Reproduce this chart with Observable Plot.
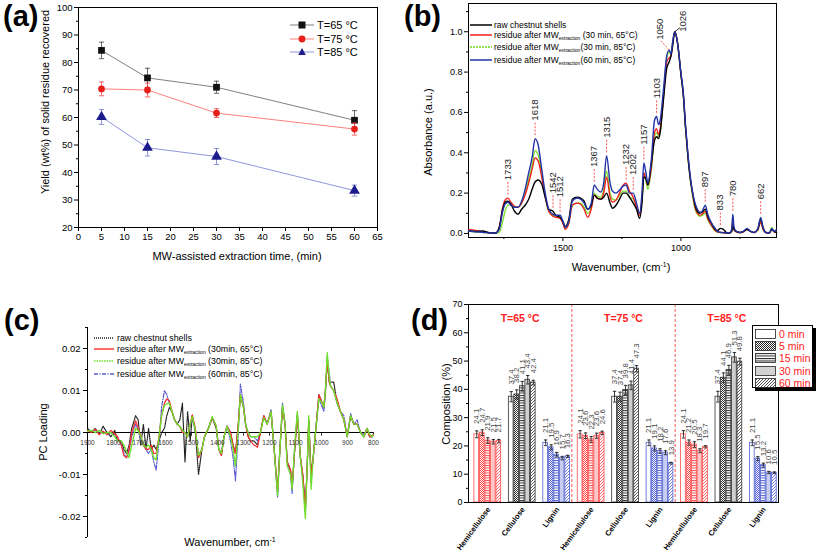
<!DOCTYPE html>
<html><head><meta charset="utf-8">
<script src="https://cdn.jsdelivr.net/npm/d3@7"></script>
<script src="https://cdn.jsdelivr.net/npm/@observablehq/plot@0.6"></script>
<style>
body{margin:0;background:#fff;}
#root{position:relative;width:817px;height:554px;overflow:hidden;font-family:"Liberation Sans",Arial,sans-serif;color:#000;}
.abs{position:absolute;white-space:nowrap;}
.plab{position:absolute;font-weight:bold;font-size:29px;line-height:29px;}
.lg{position:absolute;white-space:nowrap;font-size:8.5px;line-height:10px;}
.lg sub{font-size:5px;vertical-align:-2px;}
</style></head><body><div id="root"></div>
<script>
// ---------- DATA ----------
// (a) yield vs time
const timesA = [5, 15, 30, 60];
const yield65 = [84.4, 74.4, 71.0, 59.0];
const err65 = [3.0, 3.5, 2.2, 3.5];
const yield75 = [70.4, 70.0, 61.6, 55.8];
const err75 = [2.5, 2.5, 1.6, 2.2];
const yield85 = [60.2, 49.0, 45.8, 33.4];
const err85 = [2.7, 3.0, 2.9, 2.0];
const seriesNamesA = ["T=65 °C", "T=75 °C", "T=85 °C"];

// (b) FTIR spectra
const WNb = [1900,1870,1840,1810,1785,1770,1755,1745,1733,1720,
1705,1690,1675,1660,1645,1630,1618,1605,1590,1575,
1560,1542,1530,1512,1500,1490,1475,1460,1440,1425,
1410,1395,1380,1367,1355,1340,1327,1315,1300,1290,
1275,1260,1245,1232,1218,1202,1188,1175,1165,1157,
1148,1140,1125,1112,1103,1095,1088,1075,1060,1050,
1042,1035,1026,1015,1000,990,980,970,960,950,
940,930,920,910,897,885,870,855,845,833,
820,805,795,785,780,775,765,750,735,720,
705,690,675,662,652,640,625,615,605,595];
const rawB = [0.012,0.010,0.012,0.003,0.002,0.03,0.12,0.155,0.16,0.145,
0.11,0.095,0.12,0.14,0.17,0.22,0.255,0.265,0.245,0.18,
0.12,0.11,0.09,0.08,0.06,0.035,0.07,0.17,0.18,0.175,
0.16,0.12,0.14,0.19,0.175,0.17,0.18,0.2,0.15,0.125,
0.14,0.17,0.2,0.2,0.18,0.15,0.12,0.075,0.15,0.28,
0.27,0.24,0.35,0.46,0.48,0.47,0.5,0.65,0.82,0.85,
0.88,0.93,1.0,0.95,0.79,0.69,0.52,0.38,0.27,0.2,
0.14,0.11,0.1,0.105,0.12,0.08,0.05,0.02,0.015,0.025,
0.02,0.003,0.002,0.01,0.04,0.02,0.01,0.005,0.01,0.02,
0.01,0.005,0.02,0.07,0.03,0.005,0.003,0.02,0.01,0.005];
const res65B = [0.02,0.015,0.008,0.003,0.002,0.03,0.13,0.165,0.175,0.155,
0.135,0.13,0.15,0.19,0.25,0.32,0.375,0.36,0.28,0.18,
0.11,0.085,0.08,0.075,0.05,0.02,0.05,0.14,0.15,0.145,
0.12,0.08,0.12,0.19,0.175,0.17,0.2,0.28,0.18,0.155,
0.165,0.2,0.24,0.25,0.21,0.18,0.13,0.09,0.17,0.3,
0.27,0.24,0.33,0.5,0.52,0.49,0.52,0.66,0.85,0.87,
0.88,0.94,1.0,0.95,0.79,0.69,0.52,0.38,0.27,0.19,
0.13,0.1,0.09,0.095,0.11,0.07,0.04,0.015,0.008,0.005,
0.003,0.002,0.002,0.01,0.05,0.02,0.008,0.004,0.008,0.02,
0.01,0.004,0.015,0.055,0.02,0.004,0.002,0.02,0.008,0.005];
const res85B = [0.01,0.008,0.006,0.002,0.0,0.005,0.06,0.11,0.14,0.14,
0.13,0.13,0.15,0.2,0.27,0.34,0.41,0.39,0.3,0.19,
0.11,0.09,0.085,0.08,0.055,0.025,0.05,0.14,0.15,0.15,
0.13,0.1,0.13,0.2,0.185,0.18,0.22,0.31,0.2,0.17,
0.165,0.19,0.21,0.21,0.18,0.17,0.13,0.1,0.16,0.3,
0.26,0.22,0.32,0.48,0.5,0.48,0.5,0.66,0.87,0.9,
0.89,0.95,1.0,0.95,0.79,0.68,0.51,0.37,0.26,0.18,
0.12,0.095,0.085,0.09,0.1,0.065,0.035,0.012,0.006,0.004,
0.003,0.002,0.002,0.01,0.07,0.02,0.008,0.004,0.008,0.02,
0.01,0.004,0.015,0.06,0.02,0.004,0.005,0.03,0.008,0.005];
const res60B = [0.012,0.008,0.006,0.002,0.002,0.02,0.11,0.145,0.155,0.14,
0.13,0.13,0.16,0.22,0.3,0.38,0.47,0.44,0.32,0.2,
0.12,0.095,0.09,0.09,0.06,0.03,0.06,0.16,0.175,0.17,
0.15,0.12,0.15,0.24,0.22,0.205,0.25,0.385,0.25,0.21,
0.2,0.215,0.235,0.24,0.2,0.2,0.15,0.1,0.2,0.35,
0.3,0.25,0.37,0.56,0.58,0.54,0.56,0.7,0.88,0.91,
0.89,0.95,1.0,0.95,0.8,0.7,0.53,0.39,0.28,0.2,
0.15,0.12,0.105,0.11,0.14,0.09,0.05,0.025,0.01,0.006,
0.004,0.002,0.002,0.02,0.095,0.03,0.01,0.005,0.01,0.025,
0.01,0.005,0.02,0.08,0.03,0.005,0.003,0.025,0.01,0.02];
const peaksB = [1733,1618,1542,1512,1367,1315,1232,1202,1157,1103,897,833,780,662];
const peak1050 = 1050, peak1026 = 1026;
const legendB = ["raw chestnut shells", ["residue after MW","extraction"," (30 min, 65°C)"], ["residue after MW","extraction","(30 min, 85°C)"], ["residue after MW","extraction","(60 min, 85°C)"]];

// (c) PC loadings
const WNc = [1900,1885,1870,1855,1840,1825,1810,1795,1785,1770,
1760,1750,1740,1730,1715,1705,1695,1685,1675,1665,
1655,1645,1636,1625,1615,1604,1595,1585,1575,1565,
1555,1545,1535,1525,1515,1505,1497,1485,1473,1460,
1450,1435,1420,1405,1395,1385,1375,1363,1350,1340,
1331,1320,1312,1300,1292,1282,1273,1260,1246,1235,
1222,1209,1194,1182,1169,1160,1150,1140,1132,1125,
1119,1113,1103,1093,1081,1072,1062,1055,1049,1040,
1032,1023,1010,997,991,985,978,970,965,953,
940,927,914,901,888,876,863,850,837,825,
815,805,800];
const rawC = [0.001,0.0,0.001,-0.0005,0.0015,0.0,-0.001,0.0005,-0.002,-0.002,
-0.004,-0.005,-0.003,0.001,0.004,0.003,-0.003,0.002,-0.004,0.001,
-0.004,-0.003,-0.004,-0.002,0.0,0.001,0.004,0.006,0.005,0.003,
0.002,0.003,0.007,-0.007,0.005,-0.002,0.004,0.0,-0.01,-0.004,
-0.001,0.001,0.0035,0.001,-0.004,-0.005,-0.001,0.0015,0.0,-0.003,
-0.005,0.002,0.009,0.006,0.002,-0.001,-0.002,-0.002,-0.003,0.0,
0.004,0.002,0.005,-0.004,-0.014,-0.004,0.006,0.002,-0.007,-0.008,
-0.009,-0.013,-0.004,0.004,-0.006,-0.01,-0.018,-0.008,0.003,-0.01,
-0.006,0.0,0.009,0.007,0.006,0.01,0.017,0.012,0.012,0.012,
0.007,0.005,0.003,-0.001,0.004,0.002,0.002,0.0,-0.001,0.001,
-0.001,-0.001,-0.0005];
const res65C = [0.0005,0.0,0.0008,-0.0005,0.0003,-0.0005,0.0005,-0.0003,-0.001,-0.003,
-0.0055,-0.006,-0.004,0.0,0.0028,0.001,-0.001,-0.003,-0.004,-0.004,
-0.003,-0.005,-0.005,-0.001,0.004,0.007,0.008,0.0075,0.005,0.003,
0.002,0.0015,0.0,0.0,-0.001,0.002,0.0042,0.001,-0.006,-0.004,
-0.001,0.001,0.0035,0.0015,-0.004,-0.0055,-0.001,0.0015,0.0,-0.003,
-0.005,0.002,0.009,0.006,0.002,-0.001,-0.002,-0.003,-0.0035,0.0,
0.004,0.002,0.005,-0.004,-0.014,-0.004,0.006,0.002,-0.007,-0.008,
-0.009,-0.013,-0.004,0.004,-0.006,-0.01,-0.018,-0.008,0.003,-0.01,
-0.006,0.0,0.009,0.007,0.006,0.01,0.017,0.012,0.011,0.01,
0.008,0.005,0.003,-0.001,0.004,0.002,0.002,0.0,-0.001,0.001,
-0.001,-0.001,-0.0005];
const res85C = [0.0003,0.0005,0.0,0.0005,-0.0003,0.0,0.0,-0.001,-0.002,-0.002,
-0.003,-0.0045,-0.006,-0.003,0.001,0.0005,-0.001,-0.003,-0.0035,-0.003,
-0.004,-0.006,-0.0065,-0.001,0.004,0.0065,0.0068,0.007,0.005,0.003,
0.002,0.0015,0.0005,0.0,-0.001,0.002,0.0038,0.0005,-0.0055,-0.004,
-0.001,0.001,0.0038,0.0015,-0.004,-0.005,-0.001,0.0015,-0.001,-0.004,
-0.008,0.001,0.009,0.006,0.002,0.0,-0.001,-0.001,-0.001,0.0,
0.0035,0.002,0.005,-0.004,-0.015,-0.004,0.0065,0.002,-0.008,-0.009,
-0.01,-0.0135,-0.003,0.005,-0.006,-0.012,-0.0205,-0.008,0.004,-0.0135,
-0.006,0.0,0.008,0.007,0.006,0.01,0.019,0.013,0.011,0.01,
0.007,0.005,0.003,-0.001,0.004,0.002,0.002,0.0,-0.001,0.001,
-0.0005,-0.001,-0.0005];
const res60C = [0.0005,0.0002,0.0005,0.0,0.0002,-0.0005,0.0,-0.0005,-0.001,-0.003,
-0.005,-0.006,-0.0045,-0.001,0.002,0.0005,-0.002,-0.003,-0.004,-0.005,
-0.004,-0.007,-0.009,-0.002,0.006,0.01,0.009,0.007,0.005,0.003,
0.002,0.0015,0.0005,0.0,-0.001,0.0015,0.0035,0.0005,-0.0055,-0.004,
-0.001,0.001,0.0035,0.0015,-0.004,-0.0055,-0.001,0.0015,-0.002,-0.006,
-0.0115,0.0,0.0115,0.007,0.002,0.0,-0.001,-0.001,-0.002,0.0,
0.004,0.002,0.0055,-0.004,-0.0155,-0.004,0.007,0.002,-0.007,-0.009,
-0.01,-0.0145,-0.004,0.0045,-0.006,-0.011,-0.019,-0.008,0.003,-0.012,
-0.006,0.0,0.008,0.006,0.005,0.009,0.018,0.014,0.011,0.01,
0.007,0.005,0.004,-0.001,0.0045,0.002,0.003,0.0,-0.0005,0.001,
-0.0005,-0.001,-0.0005];
const ticksC = [1900,1800,1700,1600,1500,1400,1300,1200,1100,1000,900,800];
const legendC = ["raw chestnut shells", ["residue after MW","extraction"," (30min, 65°C)"], ["residue after MW","extraction"," (30min, 85°C)"], ["residue after MW","extraction"," (60min, 85°C)"]];

// (d) composition
const timesD = ["0 min","5 min","15 min","30 min","60 min"];
const componentsD = ["Hemicellulose","Cellulose","Lignin"];
const tempsD = ["T=65 °C","T=75 °C","T=85 °C"];
const hemi65 = [24.1,24.7,21.9,21.5,21.7], cell65 = [37.4,38.2,41.1,43.4,42.4], lig65 = [21.1,19.5,16.9,15.7,16.3];
const hemi75 = [24.1,23.6,22.3,23.6,24.6], cell75 = [37.4,37.4,39.8,41.4,47.3], lig75 = [21.1,19.1,18.2,17.6,13.9];
const hemi85 = [24.1,21.2,20.5,18.3,19.7], cell85 = [37.4,44.1,46.9,51.3,49.8], lig85 = [21.1,15.5,13.2,10.6,10.5];
const hemi65e = [1.2,1.0,1.0,0.8,0.6], cell65e = [1.8,1.6,1.7,1.5,0.8], lig65e = [1.0,0.9,0.8,0.6,0.4];
const hemi75e = [1.3,1.0,1.0,0.9,0.6], cell75e = [1.9,1.6,1.6,1.5,1.1], lig75e = [1.0,0.9,0.8,0.7,0.3];
const hemi85e = [1.3,0.9,1.0,0.7,0.4], cell85e = [1.9,1.7,1.6,1.7,1.2], lig85e = [1.0,0.7,0.7,0.4,0.3];

// ---------- HELPERS ----------
const FF = '"Liberation Sans", Arial, sans-serif';
const root = document.getElementById("root");
function put(el, left, top) { el.style.position = "absolute"; el.style.left = left + "px"; el.style.top = top + "px"; root.appendChild(el); return el; }
function label(text, cx, cy, size, rot) {
  const d = document.createElement("div");
  d.className = "abs"; d.innerHTML = text; d.style.fontSize = size + "px"; d.style.lineHeight = "1";
  d.style.transform = `translate(-50%,-50%)` + (rot ? ` rotate(${rot}deg)` : "");
  return put(d, cx, cy);
}
function plab(t, l, tp) { const d = document.createElement("div"); d.className = "plab"; d.textContent = t; return put(d, l, tp); }
const capSym = {draw(ctx, size) { const w = Math.sqrt(size / Math.PI); ctx.moveTo(-w, 0); ctx.lineTo(w, 0); }};
const baseStyle = {fontFamily: FF, fontSize: "9.5px", background: "none", overflow: "visible", color: "#000"};
const blank = () => "";

// pattern defs
const PCOL = {Hemicellulose: "#ff4a4a", Cellulose: "#333333", Lignin: "#5060d0", key: "#222222"};
const LIGHT = {Hemicellulose: "#ffc8c8", Cellulose: "#cfcfcf", Lignin: "#c8cef2", key: "#d2d2d2"};
let defs = "";
for (const [k, c] of Object.entries(PCOL)) {
  defs += `<pattern id="p5-${k}" width="2" height="2" patternUnits="userSpaceOnUse"><rect width="2" height="2" fill="#fff"/><rect width="1" height="1" fill="${c}"/><rect x="1" y="1" width="1" height="1" fill="${c}"/></pattern>`;
  defs += `<pattern id="p15-${k}" width="3" height="2.5" patternUnits="userSpaceOnUse"><rect width="3" height="2.5" fill="#fff"/><rect width="3" height="1" fill="${c}"/></pattern>`;
  defs += `<pattern id="p60-${k}" width="3" height="3" patternUnits="userSpaceOnUse"><rect width="3" height="3" fill="#fff"/><path d="M-1,1 L1,-1 M0,3 L3,0 M2,4 L4,2" stroke="${c}" stroke-width="0.8"/></pattern>`;
}
document.body.insertAdjacentHTML("afterbegin", `<svg width="0" height="0" style="position:absolute"><defs>${defs}</defs></svg>`);
function fillFor(b, k) { return b === 0 ? "#ffffff" : b === 1 ? `url(#p5-${k})` : b === 2 ? `url(#p15-${k})` : b === 3 ? LIGHT[k] : `url(#p60-${k})`; }

// ---------- PANEL (a) ----------
{
  const styles = [
    {y: yield65, e: err65, mk: "#111", ln: "#808080", eb: "#444", sym: "square", r: 3.8},
    {y: yield75, e: err75, mk: "#e8201c", ln: "#ff8080", eb: "#f04040", sym: "circle", r: 3.4},
    {y: yield85, e: err85, mk: "#1c1c8f", ln: "#9096dc", eb: "#7076c8", sym: "triangle", r: 4}
  ];
  const marks = [
    Plot.frame({stroke: "#000"}),
    Plot.axisX({ticks: d3.range(0, 66, 5), tickSize: 4, tickPadding: 2, tickFormat: d => String(d), label: null, fontSize: 9.5}),
    Plot.axisY({ticks: d3.range(20, 101, 10), tickSize: 4, tickPadding: 2, tickFormat: d => String(d), label: null, fontSize: 9.5}),
    Plot.axisY({ticks: d3.range(25, 100, 10), tickSize: 2, tickFormat: blank, label: null})
  ];
  styles.forEach((s, si) => {
    const rows = timesA.map((t, i) => ({t, v: s.y[i], e: s.e[i]}));
    marks.push(Plot.line(rows, {x: "t", y: "v", stroke: s.ln, strokeWidth: 1}));
    marks.push(Plot.ruleX(rows, {x: "t", y1: d => d.v - d.e, y2: d => d.v + d.e, stroke: s.eb, strokeWidth: 0.8}));
    marks.push(Plot.dot(rows, {x: "t", y: d => d.v + d.e, symbol: capSym, r: 2.6, stroke: s.eb, strokeWidth: 0.8}));
    marks.push(Plot.dot(rows, {x: "t", y: d => d.v - d.e, symbol: capSym, r: 2.6, stroke: s.eb, strokeWidth: 0.8}));
    marks.push(Plot.dot(rows, {x: "t", y: "v", symbol: s.sym, r: s.r, fill: s.mk, stroke: "none"}));
  });
  const p = Plot.plot({width: 400, height: 270, marginLeft: 78, marginRight: 23, marginTop: 7, marginBottom: 43,
    x: {domain: [0, 65]}, y: {domain: [20, 100]}, style: baseStyle, marks});
  put(p, 0, 0);
  const lg = styles.map((s, i) => {
    const shape = s.sym === "square" ? `<rect x="8.5" y="1.5" width="7" height="7" fill="${s.mk}"/>` :
      s.sym === "circle" ? `<circle cx="12" cy="5" r="3.4" fill="${s.mk}"/>` :
      `<path d="M12,1 L15.8,8 L8.2,8 Z" fill="${s.mk}"/>`;
    return `<div class="abs" style="left:290px;top:${[20,34,47][i]}px;height:10px;font-size:11px;line-height:10px">` +
      `<svg width="24" height="10" style="vertical-align:top"><line x1="0" y1="5" x2="24" y2="5" stroke="${s.ln}" stroke-width="1"/>${shape}</svg>` +
      `<span style="position:absolute;left:27px;top:0">${seriesNamesA[i]}</span></div>`;
  }).join("");
  root.insertAdjacentHTML("beforeend", lg);
  label("Yield (wt%) of solid residue recovered", 45, 102, 11, -90);
  label("MW-assisted extraction time, (min)", 237, 256, 11);
  plab("(a)", 3, 2);
}

// ---------- PANEL (b) ----------
{
  const rows = WNb.map((w, i) => ({w, raw: rawB[i], r65: res65B[i], r85: res85B[i], r60: res60B[i]}));
  const topAt = w => { const i = WNb.indexOf(w); return Math.max(rawB[i], res65B[i], res85B[i], res60B[i]); };
  const peaks = peaksB.map(w => ({w, top: topAt(w)}));
  const sp1050 = [{w: peak1050, top: topAt(peak1050)}];
  const sp1026 = [{w: peak1026, top: topAt(peak1026)}];
  const p = Plot.plot({width: 417, height: 280, marginLeft: 68, marginRight: 41, marginTop: 3, marginBottom: 43,
    x: {domain: [1900, 595]}, y: {domain: [-0.02, 1.14]}, style: {...baseStyle, fontSize: "9px"},
    marks: [
      Plot.frame({stroke: "#000"}),
      Plot.axisX({ticks: [1500, 1000], tickSize: 4, tickPadding: 3, tickFormat: d => String(d), label: null}),
      Plot.axisX({ticks: [1750, 1250, 750], tickSize: 2, tickFormat: blank, label: null}),
      Plot.axisY({ticks: [0, 0.2, 0.4, 0.6, 0.8, 1.0], tickSize: 4, tickPadding: 2, tickFormat: d => d.toFixed(1), label: null}),
      Plot.axisY({ticks: [0.1, 0.3, 0.5, 0.7, 0.9, 1.1], tickSize: 2, tickFormat: blank, label: null}),
      Plot.ruleX(peaks, {x: "w", y1: d => d.top, y2: d => d.top + 0.065, dy: -3, stroke: "#ff4040", strokeDasharray: "2,1.5", strokeWidth: 0.9}),
      Plot.line(rows, {x: "w", y: "r85", stroke: "#7ee02c", strokeWidth: 1.3, curve: "monotone-x"}),
      Plot.line(rows, {x: "w", y: "r65", stroke: "#f21c1c", strokeWidth: 1.3, curve: "monotone-x"}),
      Plot.line(rows, {x: "w", y: "raw", stroke: "#000", strokeWidth: 1.4, curve: "monotone-x"}),
      Plot.line(rows, {x: "w", y: "r60", stroke: "#2233a8", strokeWidth: 1.4, curve: "monotone-x"}),
      Plot.text(peaks, {x: "w", y: "top", text: d => String(d.w), rotate: -90, textAnchor: "start", dy: -18, fontSize: 9.5, fill: "#222"}),
      Plot.link(sp1050, {x1: "w", y1: "top", x2: d => d.w + 35, y2: d => d.top + 0.045, stroke: "#ff4040", strokeDasharray: "2,1.5", strokeWidth: 0.9}),
      Plot.text(sp1050, {x: d => d.w + 38, y: d => d.top + 0.05, text: d => String(d.w), rotate: -90, textAnchor: "start", fontSize: 9.5, fill: "#222"}),
      Plot.link(sp1026, {x1: "w", y1: "top", x2: d => d.w - 22, y2: d => d.top + 0.02, stroke: "#000", strokeWidth: 0.8}),
      Plot.text(sp1026, {x: d => d.w - 34, y: d => d.top, text: d => String(d.w), rotate: -90, textAnchor: "start", fontSize: 9.5, fill: "#222"})
    ]});
  put(p, 400, 0);
  const sty = [["#000", ""], ["#f21c1c", ""], ["#6fd81c", "2,1"], ["#2233a8", ""]];
  const ys = [20, 30, 42, 55];
  legendB.forEach((t, i) => {
    const txt = Array.isArray(t) ? `${t[0]}<sub>${t[1]}</sub>${t[2]}` : t;
    root.insertAdjacentHTML("beforeend", `<div class="lg" style="left:470px;top:${ys[i]}px"><svg width="22" height="10" style="vertical-align:top"><line x1="0" y1="5" x2="22" y2="5" stroke="${sty[i][0]}" stroke-width="1.5" stroke-dasharray="${sty[i][1]}"/></svg><span style="position:absolute;left:24px;top:0">${txt}</span></div>`);
  });
  label("Absorbance (a.u.)", 428, 132, 11, -90);
  label("Wavenumber, (cm<sup style='font-size:7px'>-1</sup>)", 621, 267, 11);
  plab("(b)", 404, 2);
}

// ---------- PANEL (c) ----------
{
  const rows = WNc.map((w, i) => ({w, raw: rawC[i], r65: res65C[i], r85: res85C[i], r60: res60C[i]}));
  const p = Plot.plot({width: 410, height: 274, marginLeft: 87, marginRight: 37, marginTop: 47, marginBottom: 17,
    x: {domain: [1900, 800], axis: null}, y: {domain: [-0.025, 0.025]}, style: baseStyle,
    marks: [
      Plot.axisY({ticks: [-0.02, -0.01, 0, 0.01, 0.02], tickSize: 4, tickPadding: 3, tickFormat: d => d.toFixed(2), label: null}),
      Plot.axisY({ticks: [-0.025, -0.015, -0.005, 0.005, 0.015, 0.025], tickSize: 2, tickFormat: blank, label: null}),
      Plot.ruleX([1900], {stroke: "#000"}),
      Plot.ruleY([0], {stroke: "#000"}),
      Plot.ruleX(ticksC, {x: d => d, y1: 0, y2: -0.0009, stroke: "#000", strokeWidth: 0.8}),
      Plot.line(rows, {x: "w", y: "raw", stroke: "#222", strokeWidth: 1.2, strokeDasharray: "1,1"}),
      Plot.line(rows, {x: "w", y: "r60", stroke: "#5a5ad0", strokeWidth: 1.2, strokeDasharray: "4,1.5,1,1.5"}),
      Plot.line(rows, {x: "w", y: "r65", stroke: "#ff2a2a", strokeWidth: 1.2}),
      Plot.line(rows, {x: "w", y: "r85", stroke: "#6ee02a", strokeWidth: 1.4, strokeDasharray: "1.5,1"}),
      Plot.text(ticksC, {x: d => d, y: 0, dy: 10, text: d => String(d), fontSize: 6.5, fill: "#333"})
    ]});
  put(p, 0, 280);
  const sty = [["#222", "1,1"], ["#ff2a2a", ""], ["#6ee02a", "1.5,1"], ["#5a5ad0", "4,1.5,1,1.5"]];
  const ys = [333, 344, 356, 369];
  legendC.forEach((t, i) => {
    const txt = Array.isArray(t) ? `${t[0]}<sub>${t[1]}</sub>${t[2]}` : t;
    root.insertAdjacentHTML("beforeend", `<div class="lg" style="left:94px;top:${ys[i]}px;font-size:8.8px"><svg width="20" height="10" style="vertical-align:top"><line x1="0" y1="5" x2="20" y2="5" stroke="${sty[i][0]}" stroke-width="1.4" stroke-dasharray="${sty[i][1]}"/></svg><span style="position:absolute;left:23px;top:0">${txt}</span></div>`);
  });
  label("PC Loading", 43, 432, 11, -90);
  label("Wavenumber, cm<sup style='font-size:7px'>-1</sup>", 230, 542, 11);
  plab("(c)", 4, 306);
}

// ---------- PANEL (d) ----------
{
  const vals = [[hemi65, cell65, lig65], [hemi75, cell75, lig75], [hemi85, cell85, lig85]];
  const errs = [[hemi65e, cell65e, lig65e], [hemi75e, cell75e, lig75e], [hemi85e, cell85e, lig85e]];
  const rows = [];
  vals.forEach((tv, ti) => tv.forEach((cv, ci) => cv.forEach((v, b) => rows.push({g: ti * 3 + ci, b, comp: componentsD[ci], v, e: errs[ti][ci][b]}))));
  const groups = d3.range(9).map(g => ({g, comp: componentsD[g % 3]}));
  const OFF = 0.16, BW = 0.16;
  const cx = d => d.g + OFF + (d.b + 0.5) * BW;
  const p = Plot.plot({width: 417, height: 274, marginLeft: 68, marginRight: 39, marginTop: 24, marginBottom: 52,
    x: {domain: [0, 9], axis: null}, y: {domain: [0, 70]}, color: {type: "identity"}, style: {...baseStyle, fontSize: "9px"},
    marks: [
      Plot.axisY({ticks: d3.range(0, 71, 10), tickSize: 4, tickPadding: 2, tickFormat: d => String(d), label: null}),
      Plot.axisY({ticks: d3.range(5, 70, 10), tickSize: 2, tickFormat: blank, label: null}),
      Plot.rect(rows, {x1: d => d.g + OFF + d.b * BW, x2: d => d.g + OFF + (d.b + 1) * BW, y1: 0, y2: "v",
        fill: d => fillFor(d.b, d.comp), stroke: d => PCOL[d.comp], strokeWidth: 0.8, insetLeft: 0.4, insetRight: 0.4}),
      Plot.ruleX(rows, {x: cx, y1: d => d.v - d.e, y2: d => d.v + d.e, stroke: "#222", strokeWidth: 0.9}),
      Plot.dot(rows, {x: cx, y: d => d.v + d.e, symbol: capSym, r: 1.7, stroke: "#222", strokeWidth: 0.9}),
      Plot.dot(rows, {x: cx, y: d => d.v - d.e, symbol: capSym, r: 1.7, stroke: "#222", strokeWidth: 0.9}),
      Plot.text(rows, {x: cx, y: d => d.v + d.e, text: d => d.v.toFixed(1), rotate: -90, textAnchor: "start", dy: -7, fontSize: 7.8, fill: "#444"}),
      Plot.ruleX([3, 6], {stroke: "#ff5555", strokeDasharray: "3,2", strokeWidth: 1}),
      Plot.text(tempsD, {x: (d, i) => i * 3 + 1.5, frameAnchor: "top", dy: 10, text: d => d, fill: "#ff2020", fontWeight: "bold", fontSize: 10.5}),
      Plot.text(groups, {x: d => d.g + 0.5, text: "comp", frameAnchor: "bottom", rotate: -54, textAnchor: "end", dx: 5, dy: 7, fontWeight: "bold", fontSize: 7.6}),
      Plot.frame({stroke: "#000"})
    ]});
  put(p, 400, 280);
  let lg = `<div style="position:absolute;left:752px;top:325px;width:59px;height:61px;border:1px solid #000;box-shadow:3px 3px 0 #000;background:#fff">`;
  timesD.forEach((t, i) => {
    lg += `<div class="abs" style="left:2px;top:${3 + i * 12.2}px;height:10px"><svg width="21" height="10" style="vertical-align:top"><rect x="0.5" y="0.5" width="20" height="9" fill="${fillFor(i, "key")}" stroke="#222" stroke-width="0.8"/></svg><span style="position:absolute;left:24px;top:-1px;color:#ff2020;font-size:10.5px;line-height:12px">${t}</span></div>`;
  });
  lg += `</div>`;
  root.insertAdjacentHTML("beforeend", lg);
  label("Composition (%)", 446, 404, 11, -90);
  plab("(d)", 411, 306);
}
</script></body></html>
